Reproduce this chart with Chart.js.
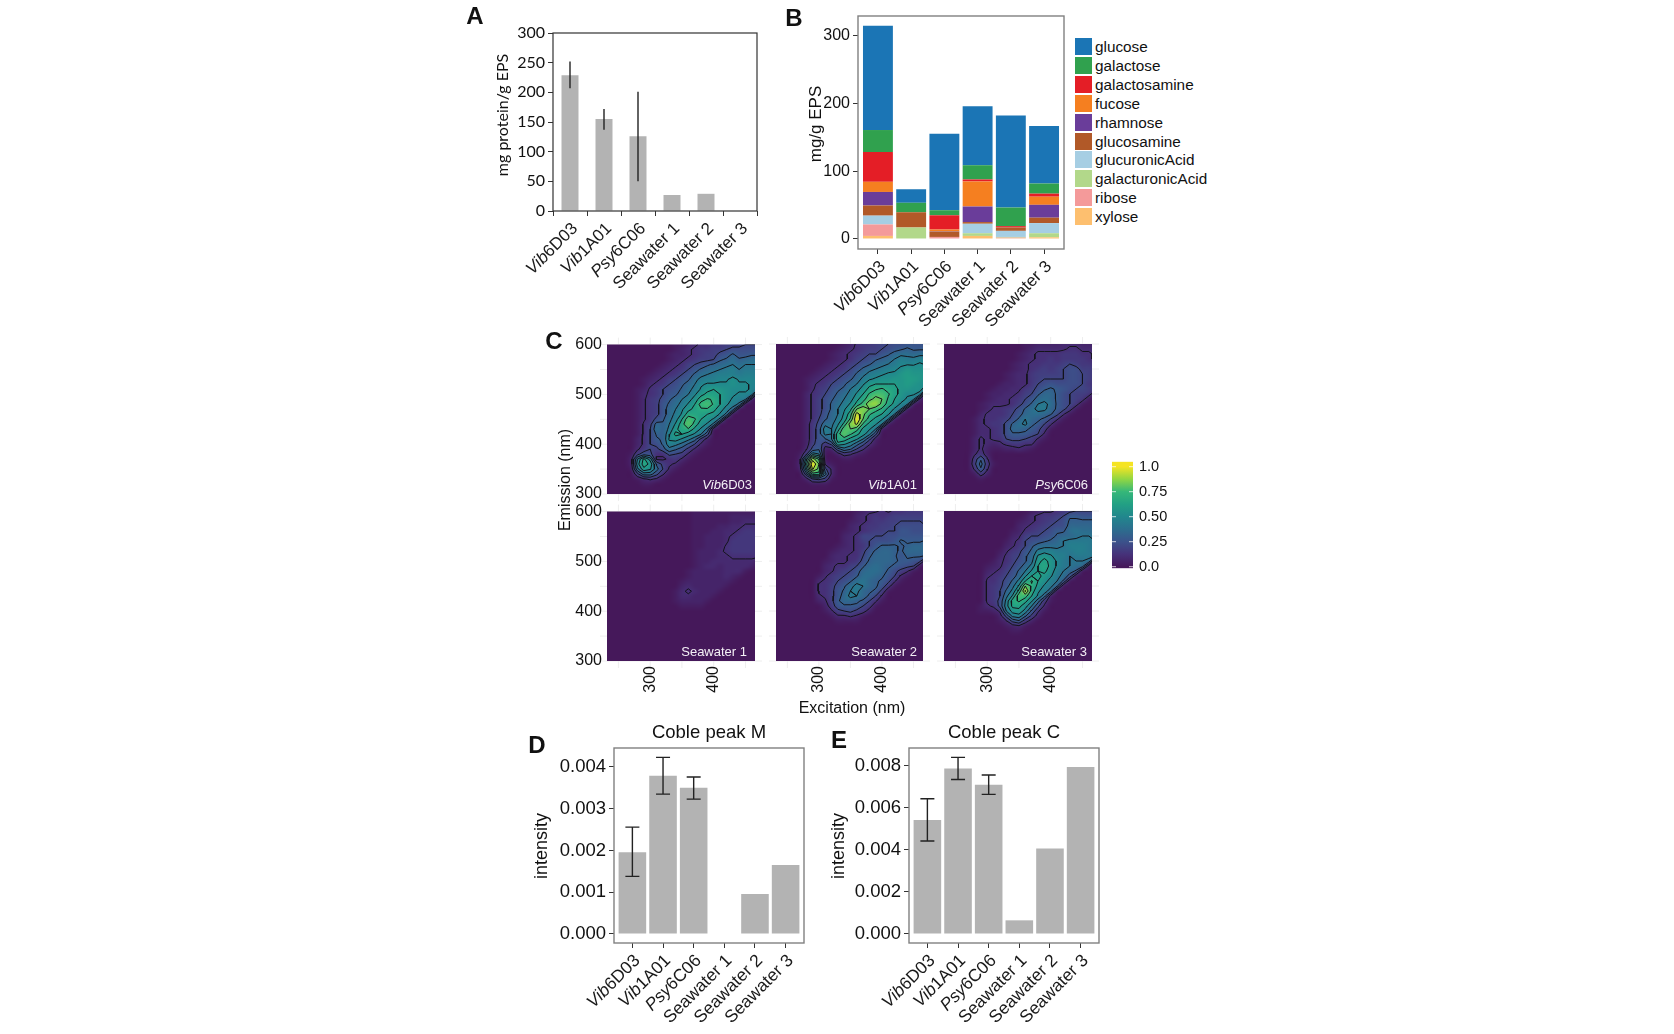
<!DOCTYPE html>
<html>
<head>
<meta charset="utf-8">
<title>EPS composition and fluorescence</title>
<script src="https://cdn.jsdelivr.net/npm/chart.js@4"></script>
<style>
  html, body { margin: 0; background: #fff; }
  #page { position: relative; width: 1674px; height: 1034px; overflow: hidden; font-family: 'Liberation Sans', sans-serif; color: #111; }
  #page canvas { position: absolute; }
  .note { position: absolute; white-space: nowrap; transform-origin: center; }
  .legend-row { position: absolute; height: 17px; }
  .legend-row i { position: absolute; left: 0; top: 0; width: 17px; height: 17px; }
  .legend-row span { position: absolute; left: 20px; top: -1px; font-size: 15.3px; line-height: 19px; white-space: nowrap; }
</style>
</head>
<body>
<div id="page"></div>
<script>
const categories = ['Vib6D03', 'Vib1A01', 'Psy6C06', 'Seawater 1', 'Seawater 2', 'Seawater 3'];
const barSlots = [1, 2, 3, 4, 5, 6];

// panel A
const proteinMg = [229, 155, 126, 27, 29, 0];
const proteinLow = [207, 137, 50, null, null, null];
const proteinHigh = [252, 172, 201, null, null, null];

// panel B, stacked from the axis upwards
const sugarNames = ['xylose', 'ribose', 'galacturonicAcid', 'glucuronicAcid', 'glucosamine', 'rhamnose', 'fucose', 'galactosamine', 'galactose', 'glucose'];
const sugarColors = ['#fdbf6f', '#f49a9a', '#b2d88a', '#a6cee3', '#b15928', '#6a3d9a', '#f57f20', '#e41e26', '#30a14e', '#1b75b5'];
const xylose = [4.5, 0, 0, 4.5, 1, 2.5];
const ribose = [17, 0, 3, 0, 1, 0];
const galacturonicAcid = [0, 17, 0, 4, 1, 6];
const glucuronicAcid = [13, 0, 0, 14, 9, 15];
const glucosamine = [15, 22.5, 8, 2.5, 5, 8];
const rhamnose = [20, 0, 0.5, 23, 0, 19];
const fucose = [15, 0, 2.5, 37, 0, 12];
const galactosamine = [44, 0, 21, 3, 2, 4.5];
const galactose = [32.5, 14, 7.5, 21, 27.5, 15];
const glucose = [154, 20, 113, 87, 136, 85];
const sugarSeries = [xylose, ribose, galacturonicAcid, glucuronicAcid, glucosamine, rhamnose, fucose, galactosamine, galactose, glucose];

// panels D and E
const peakM = [0.00196, 0.00379, 0.0035, 0, 0.00096, 0.00165];
const peakMLow = [0.00138, 0.00335, 0.00323, null, null, null];
const peakMHigh = [0.00256, 0.00423, 0.00376, null, null, null];
const peakC = [0.00542, 0.00787, 0.0071, 0.00065, 0.00406, 0.00794];
const peakCLow = [0.00442, 0.00735, 0.00664, null, null, null];
const peakCHigh = [0.00643, 0.0084, 0.00756, null, null, null];

// panel C grid, one character per node (base 36, 0-z meaning 0-1), first row is 600 nm
const excitationNm = [230, 240, 250, 260, 270, 280, 290, 300, 310, 320, 330, 340, 350, 360, 370, 380, 390, 400, 410, 420, 430, 440, 450, 460, 470];
const emissionNm = [600, 590, 580, 570, 560, 550, 540, 530, 520, 510, 500, 490, 480, 470, 460, 450, 440, 430, 420, 410, 400, 390, 380, 370, 360, 350, 340, 330, 320, 310, 300];

const vib6D03Rows = [
  '0000000000011234455666777', '0000000000012345566788888', '00000000001223456689b99aa', '000000000012345667abdbcdd',
  '0000000001234678abcdedeee', '000000001234579bcdefgefff', '00000001234579bdefgggfggf', '0000001234679adfgghhjhhhg',
  '000000134578acehiiiijiihg', '000001245789bdfiklkjiiihe', '00000134579acehkmmljihhf1', '0000013568acegjnpoljhge2',
  '0000013569bdfilqroligd1', '0000013569cehkmoomjgc1', '0000013569cfinnmlkhd1', '000001358adglrpljhd1',
  '00000146cbeinsnjhd1', '00000147dbfknokhd1', '00000147bbhmljhe8', '00000247abijhfc62',
  '000002478bgfda731', '0000035769db9631', '000016984487631', '00002emg334531',
  '00002gnka6431', '00001dkic731', '000006cc841', '0000013431', '00000011', '', ''
];
const vib1A01Rows = [
  '0000000000012455677889999', '00000000001234566789abaaa', '000000000123456779acddcdd', '0000000001234678abcegffgg',
  '000000001234679acdefhhhih', '00000001234579bdefghikjjj', '0000001234578bdfghiiklkkj', '000001234578acfhijjkkllkj',
  '00000134578acehkllllklkji', '0000013568abegjmopnmkkjjf', '0000024579bdfilprrpmkiig1', '000002468acegknrtsoljhf3',
  '000002468bdfimquvrnkhf2', '000002468behksusqokhe2', '000002469ceinxtpnlie2', '00000247acfjpzsnkie2',
  '00000258ddhmuwokie2', '00000259gejrsqkie2', '00000259fenspmjf8', '00000259aennkie82',
  '0000026958kigc841', '0000038a229db741', '000016ge1025421', '00002guo10011',
  '00003kzs31', '00002gwr83', '000009nnc3', '0000027861', '000000111', '', ''
];
const psy6C06Rows = [
  '0000000000000112222333222', '0000000000000123333344333', '0000000000001234444555443', '0000000000001234454555543',
  '0000000000012344555676554', '0000000000012345656788665', '0000000000123356666788765', '0000000000123356777788765',
  '0000000001223357898888755', '0000000012233568aba987765', '000000012233467acca876651', '000000012334579cdca87651',
  '00000012333468befda8751', '0000001244568bdffca851', '0000002444579cddcb841', '000001344568becba741',
  '00000134558bdfba741', '00000133458ccba851', '00000133458aaa873', '00000243447887631',
  '0000024323455441', '000002421122321', '00000352', '000005a4', '000006c51', '000004a4', '00000152', '0000001', '', '', ''
];
const seawater1Rows = [
  '0000000000000011111111111', '0000000000000011111122222', '0000000000000011111122333', '0000000000000011112233444',
  '0000000000000011122334554', '0000000000000011222345555', '0000000000000011222355555', '0000000000000011222455554',
  '0000000000000012223455554', '0000000000000012223344444', '0000000000000012233333331', '0000000000000012332333320',
  '00000000000001222223331', '0000000000000122222321', '000000000000122222221', '00000000000023222221',
  '0000000000013432221', '000000000001332221', '00000000000122221', '0000000000001111',
  '', '', '', '', '', '', '', '', '', '', ''
];
const seawater2Rows = [
  '0000000000000123343445555', '0000000000000234545666666', '0000000000001234556677777', '0000000000002345566788887',
  '0000000000012345667799888', '0000000000023477778899999', '00000000000234678889baaab', '00000000001234579bbbabccc',
  '0000000001233469bccbacccc', '000000000233447acccb9bbba', '000000001233458bcccbaa981', '00000000234467acdcba9871',
  '00000000235679cddca8641', '0000000135678addcb9731', '000000034578adecba841', '00000004468adfecb951',
  '00000004469befcba61', '00000003469cfeca73', '0000000236accba741', '00000000259aaa751',
  '0000000013678652', '000000000133431', '00000000001111', '', '', '', '', '', '', '', ''
];
const seawater3Rows = [
  '0000000000000012334567777', '00000000000001345567aa999', '00000000000012345678bbbbb', '00000000000023456788ccccb',
  '000000000001245678aadeddc', '000000000002367789bccdeee', '0000000000134789abceffffe', '00000000002357acdddegggfe',
  '00000000013569bfggfffggfe', '0000000002467acikiggefffe', '0000000013468adkmkhfeeed1', '0000000123579cflnkhfedc2',
  '000000023468beilmjgeca1', '000000034579chlmkifd91', '00000004468bflpljgea1', '00000004569disokhfb1',
  '0000000457bfmwnigc1', '0000000457dirqlhc2', '0000000458fnpmic51', '0000001348gmmje83',
  '0000001124ejkga41', '00000000028fgb62', '000000000138a52', '00000000001231', '0000000000011', '', '', '', '', '', ''
];

const contourLevels = [0.1, 0.2, 0.3, 0.4, 0.5, 0.6, 0.7, 0.8, 0.9];
const colorbarTicks = [0, 0.25, 0.5, 0.75, 1];
const colorbarLabels = ['0.0', '0.25', '0.50', '0.75', '1.0'];
const heatStops = [
  [0, [69, 24, 90]], [0.125, [70, 50, 122]], [0.25, [59, 82, 139]], [0.375, [44, 110, 142]],
  [0.5, [33, 135, 141]], [0.625, [34, 160, 132]], [0.75, [53, 183, 121]], [0.875, [144, 214, 67]], [1, [245, 228, 35]]
];

const page = document.getElementById('page');
const AXIS_FONT = "'Liberation Sans', sans-serif";
const CALIBRI_LIKE = "Lato, sans-serif";
const BAR_GREY = '#b3b3b3';

function addNote(text, x, y, size, opts = {}) {
  const el = document.createElement('div');
  el.className = 'note';
  el.textContent = text;
  el.style.left = x + 'px';
  el.style.top = y + 'px';
  el.style.fontSize = size + 'px';
  el.style.fontFamily = opts.family || AXIS_FONT;
  if (opts.bold) el.style.fontWeight = '700';
  el.style.transform = `translate(-50%, -50%) rotate(${opts.angle || 0}deg)`;
  page.appendChild(el);
}

// Frame around the plot area, ggplot style
const framePlugin = {
  id: 'frame',
  afterDraw(chart, args, opts) {
    const { left, right, top, bottom } = chart.chartArea;
    const ctx = chart.ctx;
    ctx.save();
    ctx.strokeStyle = opts.color;
    ctx.lineWidth = opts.width;
    ctx.strokeRect(left, top, right - left, bottom - top);
    ctx.restore();
  }
};

// Slanted category labels, the strain genus goes in italics
const slantedLabels = {
  id: 'slantedLabels',
  afterDraw(chart, args, opts) {
    const ctx = chart.ctx;
    const xScale = chart.scales.x;
    const bottom = chart.chartArea.bottom;
    categories.forEach((name, i) => {
      const m = name.match(/^(Vib|Psy)(.*)$/);
      const head = m ? m[1] : '';
      const tail = m ? m[2] : name;
      ctx.save();
      ctx.translate(xScale.getPixelForValue(opts.slots[i]) + opts.dx, bottom + opts.dy);
      ctx.rotate(-Math.PI / 4);
      ctx.fillStyle = '#1a1a1a';
      ctx.textBaseline = 'middle';
      ctx.textAlign = 'left';
      ctx.font = `${opts.size}px ${AXIS_FONT}`;
      const tailWidth = ctx.measureText(tail).width;
      ctx.fillText(tail, -tailWidth, 0);
      if (head) {
        ctx.font = `italic ${opts.size}px ${AXIS_FONT}`;
        const headWidth = ctx.measureText(head).width;
        ctx.fillText(head, -tailWidth - headWidth, 0);
      }
      ctx.restore();
    });
  }
};

const errorBars = {
  id: 'errorBars',
  afterDatasetsDraw(chart, args, opts) {
    const ctx = chart.ctx;
    const xScale = chart.scales.x;
    const yScale = chart.scales.y;
    ctx.save();
    ctx.strokeStyle = '#222';
    ctx.lineWidth = opts.width;
    opts.low.forEach((low, i) => {
      if (low === null) return;
      const x = xScale.getPixelForValue(opts.slots[i]);
      const y0 = yScale.getPixelForValue(low);
      const y1 = yScale.getPixelForValue(opts.high[i]);
      ctx.beginPath();
      ctx.moveTo(x, y0);
      ctx.lineTo(x, y1);
      if (opts.cap) {
        ctx.moveTo(x - opts.cap, y0);
        ctx.lineTo(x + opts.cap, y0);
        ctx.moveTo(x - opts.cap, y1);
        ctx.lineTo(x + opts.cap, y1);
      }
      ctx.stroke();
    });
    ctx.restore();
  }
};

// Builds the canvas so the plot area lands on the given rectangle
function mountChart(plot, margin, config) {
  const canvas = document.createElement('canvas');
  canvas.width = plot.right - plot.left + margin.left + margin.right;
  canvas.height = plot.bottom - plot.top + margin.top + margin.bottom;
  canvas.style.left = (plot.left - margin.left) + 'px';
  canvas.style.top = (plot.top - margin.top) + 'px';
  canvas.style.width = canvas.width + 'px';
  canvas.style.height = canvas.height + 'px';
  page.appendChild(canvas);

  const options = config.options;
  const rightAxis = options.scales.y.position === 'right';
  options.responsive = false;
  options.animation = false;
  options.devicePixelRatio = 1;
  options.layout = { padding: { left: 0, top: margin.top, right: rightAxis ? 0 : margin.right, bottom: 0 } };
  options.scales.x.afterFit = s => { s.height = margin.bottom; };
  options.scales.y.afterFit = s => { s.width = rightAxis ? margin.right : margin.left; };
  options.plugins = Object.assign({ legend: { display: false }, tooltip: { enabled: false } }, options.plugins);
  return new Chart(canvas.getContext('2d'), config);
}

// Bars on a numeric axis so the ggplot side gaps come out right
function ggplotBarChart(plot, datasets, yRange, yTicks, yFormat, fontSize, plugins, pluginOptions, stacked) {
  return mountChart(plot, { left: 70, top: 16, right: 4, bottom: 90 }, {
    type: 'bar',
    data: { datasets },
    plugins,
    options: {
      plugins: pluginOptions,
      scales: {
        x: {
          type: 'linear', offset: false, min: 0.4, max: 6.6, stacked,
          afterBuildTicks: s => { s.ticks = barSlots.map(v => ({ value: v })); },
          ticks: { display: false },
          grid: { offset: false, drawOnChartArea: false, tickLength: 5, color: '#333' },
          border: { display: false }
        },
        y: {
          min: yRange[0], max: yRange[1], stacked,
          afterBuildTicks: s => { s.ticks = yTicks.map(v => ({ value: v })); },
          ticks: { color: '#111', font: { size: fontSize, family: AXIS_FONT }, padding: 3, callback: yFormat },
          grid: { drawOnChartArea: false, tickLength: 5, color: '#333' },
          border: { display: false }
        }
      }
    }
  });
}

// Panel A
mountChart({ left: 553, top: 33, right: 757, bottom: 211 }, { left: 60, top: 14, right: 4, bottom: 80 }, {
  type: 'bar',
  data: {
    labels: categories,
    datasets: [{ data: proteinMg, backgroundColor: BAR_GREY, barPercentage: 0.5, categoryPercentage: 1 }]
  },
  plugins: [framePlugin, errorBars, slantedLabels],
  options: {
    plugins: {
      frame: { color: '#333', width: 1.2 },
      errorBars: { low: proteinLow, high: proteinHigh, slots: [0, 1, 2, 3, 4, 5], width: 1.4, cap: 0 },
      slantedLabels: { slots: [0, 1, 2, 3, 4, 5], size: 17, dx: 5, dy: 15 }
    },
    scales: {
      x: {
        ticks: { display: false },
        grid: { drawOnChartArea: false, offset: true, tickLength: 5, color: '#333' },
        border: { display: false }
      },
      y: {
        min: 0, max: 300,
        ticks: { stepSize: 50, color: '#111', font: { size: 16, family: CALIBRI_LIKE }, padding: 3 },
        grid: { drawOnChartArea: false, tickLength: 5, color: '#333' },
        border: { display: false }
      }
    }
  }
});
addNote('mg protein/g EPS', 500.5, 115, 16, { angle: -90, family: CALIBRI_LIKE });

// Panel B
ggplotBarChart(
  { left: 858, top: 16, right: 1064, bottom: 249 },
  sugarSeries.map((values, i) => ({
    label: sugarNames[i],
    data: values.map((v, k) => ({ x: barSlots[k], y: v })),
    backgroundColor: sugarColors[i],
    barPercentage: 0.9,
    categoryPercentage: 1
  })),
  [-14.8, 329.5], [0, 100, 200, 300], v => v, 16,
  [framePlugin, slantedLabels],
  { frame: { color: '#808080', width: 1.4 }, slantedLabels: { slots: barSlots, size: 17, dx: 5, dy: 15 } },
  true
);
addNote('mg/g EPS', 816, 124, 17, { angle: -90 });

// Legend for panel B, glucose on top like the stack
[...sugarNames].reverse().forEach((name, i) => {
  const row = document.createElement('div');
  row.className = 'legend-row';
  row.style.left = '1075px';
  row.style.top = (38 + i * 18.9) + 'px';
  const swatch = document.createElement('i');
  swatch.style.background = sugarColors[sugarColors.length - 1 - i];
  const text = document.createElement('span');
  text.textContent = name;
  row.append(swatch, text);
  page.appendChild(row);
});

// Panel C
function heatColor(v) {
  for (let i = 1; i < heatStops.length; i++) {
    if (v <= heatStops[i][0]) {
      const [a, ca] = heatStops[i - 1];
      const [b, cb] = heatStops[i];
      const t = (v - a) / (b - a);
      return ca.map((c, k) => Math.round(c + (cb[k] - c) * t));
    }
  }
  return heatStops[heatStops.length - 1][1];
}

function gridFromRows(rows) {
  return rows.map(row => excitationNm.map((_, c) => parseInt(row[c] || '0', 36) / 35));
}

// Marching squares over the grid, segments are split with NaN points
function contourPoints(grid, level) {
  const out = [];
  const cross = (x0, y0, v0, x1, y1, v1) => {
    const t = (level - v0) / (v1 - v0);
    return { x: x0 + (x1 - x0) * t, y: y0 + (y1 - y0) * t };
  };
  for (let r = 0; r < emissionNm.length - 1; r++) {
    for (let c = 0; c < excitationNm.length - 1; c++) {
      const x0 = excitationNm[c], x1 = excitationNm[c + 1];
      const y0 = emissionNm[r], y1 = emissionNm[r + 1];
      const tl = grid[r][c], tr = grid[r][c + 1], br = grid[r + 1][c + 1], bl = grid[r + 1][c];
      const hits = [];
      if ((tl > level) !== (tr > level)) hits.push(cross(x0, y0, tl, x1, y0, tr));
      if ((tr > level) !== (br > level)) hits.push(cross(x1, y0, tr, x1, y1, br));
      if ((br > level) !== (bl > level)) hits.push(cross(x1, y1, br, x0, y1, bl));
      if ((bl > level) !== (tl > level)) hits.push(cross(x0, y1, bl, x0, y0, tl));
      for (let h = 0; h + 1 < hits.length; h += 2) {
        out.push(hits[h], hits[h + 1], { x: NaN, y: NaN });
      }
    }
  }
  return out;
}

// Paints the grid dataset as a smoothed raster sized by the scales
const heatRaster = {
  id: 'heatRaster',
  beforeDatasetsDraw(chart) {
    const cells = chart.data.datasets[0].data;
    const cols = excitationNm.length, rows = emissionNm.length;
    const small = document.createElement('canvas');
    small.width = cols;
    small.height = rows;
    const sctx = small.getContext('2d');
    const img = sctx.createImageData(cols, rows);
    cells.forEach(cell => {
      const c = excitationNm.indexOf(cell.x);
      const r = emissionNm.indexOf(cell.y);
      const rgb = heatColor(cell.v);
      const at = (r * cols + c) * 4;
      img.data[at] = rgb[0];
      img.data[at + 1] = rgb[1];
      img.data[at + 2] = rgb[2];
      img.data[at + 3] = 255;
    });
    sctx.putImageData(img, 0, 0);

    const { x, y } = chart.scales;
    const area = chart.chartArea;
    const ctx = chart.ctx;
    const px0 = x.getPixelForValue(excitationNm[0] - 5);
    const px1 = x.getPixelForValue(excitationNm[cols - 1] + 5);
    const py0 = y.getPixelForValue(emissionNm[0] + 5);
    const py1 = y.getPixelForValue(emissionNm[rows - 1] - 5);
    ctx.save();
    ctx.beginPath();
    ctx.rect(area.left, area.top, area.right - area.left, area.bottom - area.top);
    ctx.clip();
    ctx.imageSmoothingEnabled = true;
    ctx.imageSmoothingQuality = 'high';
    ctx.drawImage(small, px0, py0, px1 - px0, py1 - py0);
    ctx.restore();
  }
};

// Faint ggplot grid, only its stubs show outside the raster
const panelGrid = {
  id: 'panelGrid',
  beforeDraw(chart) {
    const { x, y } = chart.scales;
    const { left, right, top, bottom } = chart.chartArea;
    const ctx = chart.ctx;
    ctx.save();
    ctx.strokeStyle = '#eeeeee';
    ctx.lineWidth = 1;
    ctx.beginPath();
    [250, 300, 350, 400, 450].forEach(v => {
      const p = x.getPixelForValue(v);
      ctx.moveTo(p, top - 7);
      ctx.lineTo(p, bottom + 7);
    });
    [300, 350, 400, 450, 500, 550, 600].forEach(v => {
      const p = y.getPixelForValue(v);
      ctx.moveTo(left - 7, p);
      ctx.lineTo(right + 7, p);
    });
    ctx.stroke();
    ctx.restore();
  }
};

// Sample name in the bottom right corner of each panel
const panelName = {
  id: 'panelName',
  afterDraw(chart, args, opts) {
    const ctx = chart.ctx;
    const m = opts.text.match(/^(Vib|Psy)(.*)$/);
    const head = m ? m[1] : '';
    const tail = m ? m[2] : opts.text;
    const xEnd = chart.chartArea.right - opts.inset;
    const yMid = chart.chartArea.bottom - 9;
    ctx.save();
    ctx.fillStyle = '#f4f0f6';
    ctx.textBaseline = 'middle';
    ctx.textAlign = 'left';
    ctx.font = `13px ${AXIS_FONT}`;
    const tailWidth = ctx.measureText(tail).width;
    ctx.fillText(tail, xEnd - tailWidth, yMid);
    if (head) {
      ctx.font = `italic 13px ${AXIS_FONT}`;
      ctx.fillText(head, xEnd - tailWidth - ctx.measureText(head).width, yMid);
    }
    ctx.restore();
  }
};

function heatPanel(rows, name, inset, plot, showY, showX) {
  const grid = gridFromRows(rows);
  const cells = [];
  emissionNm.forEach((em, r) => excitationNm.forEach((ex, c) => cells.push({ x: ex, y: em, v: grid[r][c] })));
  const lines = contourLevels.flatMap(level => contourPoints(grid, level));
  return mountChart(plot, { left: 45, top: 14, right: 10, bottom: 45 }, {
    type: 'scatter',
    data: {
      datasets: [
        { data: cells, pointRadius: 0, showLine: false },
        { data: lines, showLine: true, pointRadius: 0, borderColor: '#14141a', borderWidth: 1, spanGaps: false }
      ]
    },
    plugins: [panelGrid, heatRaster, panelName],
    options: {
      plugins: { panelName: { text: name, inset } },
      scales: {
        x: {
          type: 'linear', min: 232, max: 465,
          afterBuildTicks: s => { s.ticks = [300, 400].map(v => ({ value: v })); },
          ticks: {
            display: showX, color: '#111', font: { size: 16, family: AXIS_FONT },
            minRotation: 90, maxRotation: 90, autoSkip: false, padding: 5
          },
          grid: { display: false, drawTicks: false },
          border: { display: false }
        },
        y: {
          type: 'linear', min: 300, max: 600,
          afterBuildTicks: s => { s.ticks = [300, 400, 500, 600].map(v => ({ value: v })); },
          ticks: { display: showY, color: '#111', font: { size: 16, family: AXIS_FONT }, padding: 5 },
          grid: { display: false, drawTicks: false },
          border: { display: false }
        }
      }
    }
  });
}

const rowTop = { top: 344, bottom: 494 };
const rowBottom = { top: 511, bottom: 661 };
const colOne = { left: 607, right: 755 };
const colTwo = { left: 776, right: 923 };
const colThree = { left: 944, right: 1092 };

heatPanel(vib6D03Rows, 'Vib6D03', 3, { ...colOne, ...rowTop }, true, false);
heatPanel(vib1A01Rows, 'Vib1A01', 6, { ...colTwo, ...rowTop }, false, false);
heatPanel(psy6C06Rows, 'Psy6C06', 4, { ...colThree, ...rowTop }, false, false);
heatPanel(seawater1Rows, 'Seawater 1', 8, { ...colOne, ...rowBottom }, true, true);
heatPanel(seawater2Rows, 'Seawater 2', 6, { ...colTwo, ...rowBottom }, false, true);
heatPanel(seawater3Rows, 'Seawater 3', 5, { ...colThree, ...rowBottom }, false, true);

addNote('Emission (nm)', 565, 480, 16, { angle: -90 });
addNote('Excitation (nm)', 852, 708, 16);

// Colour bar for panel C
const colorbarTickMarks = {
  id: 'colorbarTickMarks',
  afterDraw(chart) {
    const { left, right } = chart.chartArea;
    const ctx = chart.ctx;
    ctx.save();
    ctx.strokeStyle = 'rgba(255,255,255,0.75)';
    ctx.lineWidth = 1;
    colorbarTicks.forEach(v => {
      const p = chart.scales.y.getPixelForValue(v);
      ctx.beginPath();
      ctx.moveTo(left, p);
      ctx.lineTo(left + 4, p);
      ctx.moveTo(right - 4, p);
      ctx.lineTo(right, p);
      ctx.stroke();
    });
    ctx.restore();
  }
};

mountChart({ left: 1112, top: 461, right: 1133, bottom: 569 }, { left: 0, top: 14, right: 50, bottom: 14 }, {
  type: 'bar',
  data: {
    labels: [''],
    datasets: [{
      data: [[-0.016, 1.05]],
      barPercentage: 1,
      categoryPercentage: 1,
      backgroundColor: c => {
        const area = c.chart.chartArea;
        if (!area) return '#21918c';
        const yScale = c.chart.scales.y;
        const y0 = yScale.getPixelForValue(0);
        const y1 = yScale.getPixelForValue(1);
        const g = c.chart.ctx.createLinearGradient(0, y0, 0, y1);
        heatStops.forEach(([at, rgb]) => g.addColorStop(at, `rgb(${rgb.join(',')})`));
        return g;
      }
    }]
  },
  plugins: [colorbarTickMarks],
  options: {
    scales: {
      x: { display: false, grid: { display: false } },
      y: {
        position: 'right',
        min: -0.016, max: 1.05,
        afterBuildTicks: s => { s.ticks = colorbarTicks.map(v => ({ value: v })); },
        ticks: {
          color: '#111', font: { size: 14.5, family: AXIS_FONT }, padding: 6,
          callback: (v, i) => colorbarLabels[i]
        },
        grid: { display: false, drawTicks: false },
        border: { display: false }
      }
    }
  }
});

// Panels D and E
function peakPanel(plot, values, low, high, yRange, yTicks, titleText, titleX, labelX) {
  ggplotBarChart(
    plot,
    [{
      data: values.map((v, k) => ({ x: barSlots[k], y: v })),
      backgroundColor: BAR_GREY,
      barPercentage: 0.9,
      categoryPercentage: 1
    }],
    yRange, yTicks, v => v.toFixed(3), 18.5,
    [framePlugin, errorBars, slantedLabels],
    {
      frame: { color: '#808080', width: 1.4 },
      errorBars: { low, high, slots: barSlots, width: 1.4, cap: 7 },
      slantedLabels: { slots: barSlots, size: 17.5, dx: 5, dy: 15 }
    },
    false
  );
  addNote(titleText, titleX, 732, 18.5);
  addNote('intensity', labelX, 846, 18, { angle: -90 });
}

peakPanel({ left: 614, top: 748, right: 804, bottom: 943 }, peakM, peakMLow, peakMHigh,
  [-0.000216, 0.004455], [0, 0.001, 0.002, 0.003, 0.004], 'Coble peak M', 709, 541);
peakPanel({ left: 909, top: 748, right: 1099, bottom: 943 }, peakC, peakCLow, peakCHigh,
  [-0.000428, 0.008845], [0, 0.002, 0.004, 0.006, 0.008], 'Coble peak C', 1004, 838);

// Panel letters
addNote('A', 475, 16, 24, { bold: true });
addNote('B', 794, 18, 24, { bold: true });
addNote('C', 554, 341, 24, { bold: true });
addNote('D', 537, 745, 24, { bold: true });
addNote('E', 839, 740, 24, { bold: true });
</script>
</body>
</html>
